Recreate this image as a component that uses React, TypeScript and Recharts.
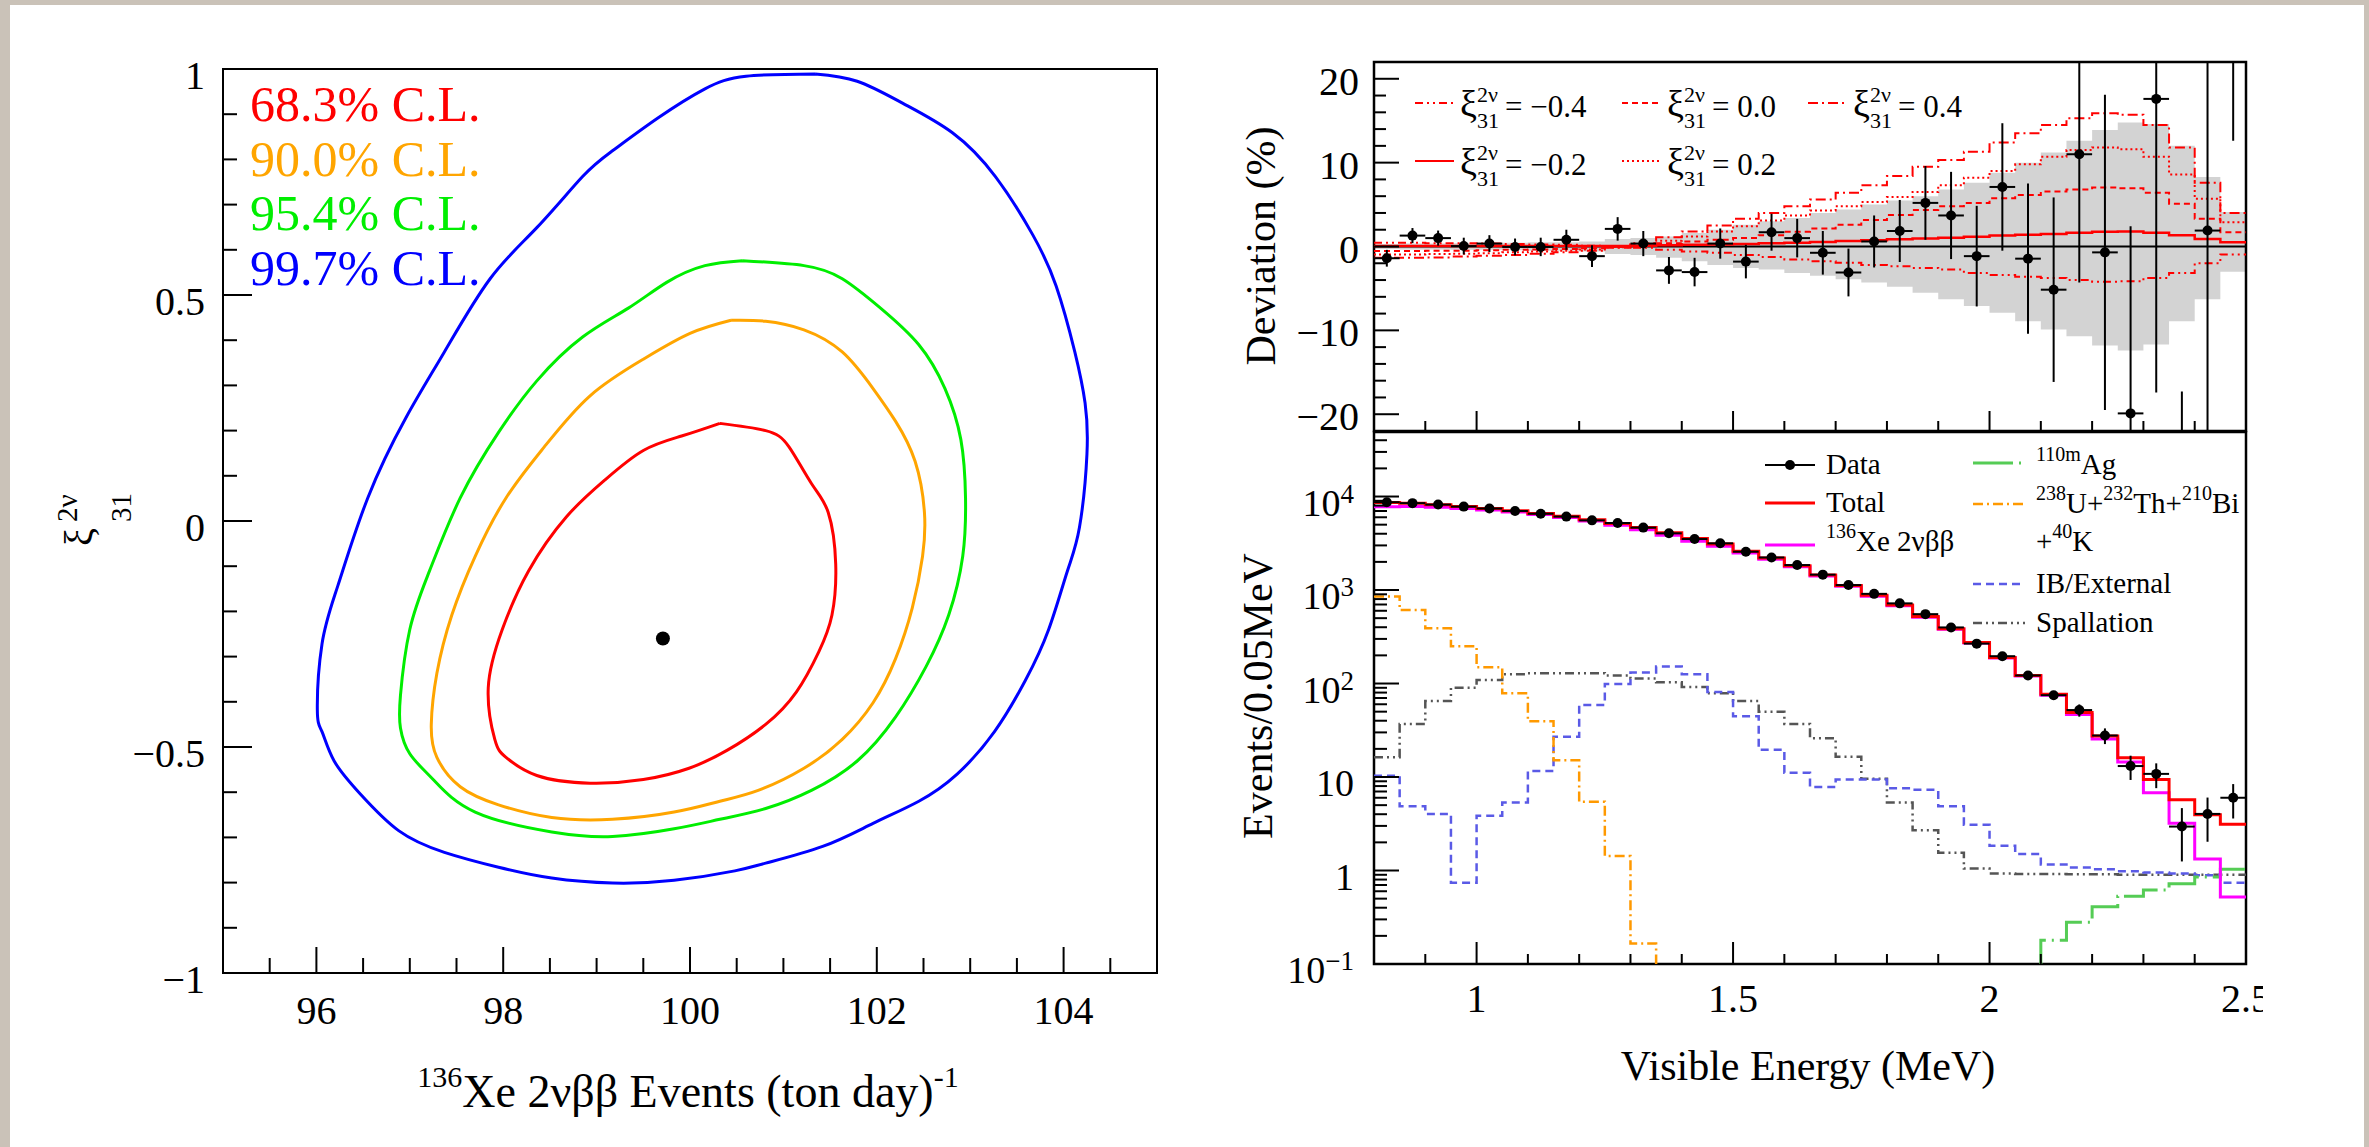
import React from 'react';
import {
  Area,
  ComposedChart,
  ErrorBar,
  Line,
  ReferenceArea,
  ReferenceLine,
  Scatter,
  XAxis,
  YAxis,
} from 'recharts';

const W = 2369;
const H = 1147;
const SERIF = '"Liberation Serif", "Times New Roman", serif';

// ---------- left panel: xi31 vs 136Xe rate contours ----------
const clLabels = ['68.3% C.L.', '90.0% C.L.', '95.4% C.L.', '99.7% C.L.'];

const cl683: [number, number][] = [
  [100.32, 0.216], [100.81, 0.2], [101.06, 0.164], [101.3, 0.083], [101.48, 0.019], [101.56, -0.095],
  [101.52, -0.208], [101.38, -0.289], [101.14, -0.378], [100.81, -0.45], [100.4, -0.507], [99.99, -0.547],
  [99.5, -0.572], [98.93, -0.58], [98.36, -0.563], [98.03, -0.523], [97.91, -0.483], [97.84, -0.369],
  [97.99, -0.24], [98.27, -0.111], [98.68, 0.01], [99.09, 0.091], [99.5, 0.156], [99.91, 0.188],
];
const cl900: [number, number][] = [
  [100.44, 0.444], [100.81, 0.442], [101.22, 0.423], [101.63, 0.374], [101.96, 0.293], [102.2, 0.221],
  [102.41, 0.132], [102.51, 0.019], [102.49, -0.078], [102.38, -0.192], [102.2, -0.305], [101.96, -0.402],
  [101.63, -0.483], [101.22, -0.547], [100.73, -0.596], [100.32, -0.62], [99.83, -0.644], [99.17, -0.66],
  [98.52, -0.656], [97.95, -0.628], [97.54, -0.588], [97.29, -0.523], [97.23, -0.45], [97.29, -0.337],
  [97.45, -0.208], [97.7, -0.078], [98.03, 0.051], [98.44, 0.164], [98.93, 0.277], [99.5, 0.358], [100.0, 0.415],
];
const cl954: [number, number][] = [
  [100.56, 0.576], [101.22, 0.565], [101.63, 0.536], [102.04, 0.471], [102.45, 0.39], [102.73, 0.293],
  [102.9, 0.18], [102.95, 0.051], [102.92, -0.078], [102.77, -0.208], [102.53, -0.321], [102.2, -0.434],
  [101.79, -0.531], [101.3, -0.596], [100.81, -0.636], [100.32, -0.66], [99.83, -0.681], [99.17, -0.698],
  [98.52, -0.688], [97.7, -0.644], [97.25, -0.572], [97.0, -0.515], [96.9, -0.458], [96.9, -0.386],
  [97.0, -0.24], [97.21, -0.111], [97.54, 0.051], [97.95, 0.196], [98.36, 0.31], [98.85, 0.407],
  [99.34, 0.471], [99.75, 0.528], [100.16, 0.565],
];
const cl997: [number, number][] = [
  [101.34, 0.989], [100.6, 0.984], [100.16, 0.956], [99.66, 0.892], [99.17, 0.819], [98.85, 0.762],
  [98.36, 0.649], [97.86, 0.536], [97.37, 0.374], [96.96, 0.229], [96.55, 0.051], [96.23, -0.143],
  [96.06, -0.272], [96.01, -0.418], [96.06, -0.466], [96.19, -0.531], [96.47, -0.604], [96.88, -0.685],
  [97.37, -0.733], [97.95, -0.766], [98.52, -0.79], [99.17, -0.801], [99.83, -0.795], [100.48, -0.774],
  [100.81, -0.757], [101.42, -0.72], [101.96, -0.669], [102.45, -0.62], [102.86, -0.56], [103.26, -0.466],
  [103.59, -0.353], [103.84, -0.24], [104.04, -0.111], [104.17, -0.014], [104.25, 0.148], [104.23, 0.261],
  [104.12, 0.374], [103.92, 0.52], [103.67, 0.633], [103.27, 0.762], [102.81, 0.859], [102.28, 0.924],
  [101.79, 0.973],
];
const bestFit = [{ x: 99.71, y: -0.26 }];

const leftXTicks = [95.5, 96, 96.5, 97, 97.5, 98, 98.5, 99, 99.5, 100, 100.5, 101, 101.5, 102, 102.5, 103, 103.5, 104, 104.5];
const leftXMajors = [96, 98, 100, 102, 104];
const leftYTicks = [-1, -0.9, -0.8, -0.7, -0.6, -0.5, -0.4, -0.3, -0.2, -0.1, 0, 0.1, 0.2, 0.3, 0.4, 0.5, 0.6, 0.7, 0.8, 0.9, 1];
const leftYMajors = [-1, -0.5, 0, 0.5, 1];

// ---------- right panels: energy spectrum ----------
const binEdges = [0.8, 0.85, 0.9, 0.95, 1.0, 1.05, 1.1, 1.15, 1.2, 1.25, 1.3, 1.35, 1.4, 1.45, 1.5, 1.55, 1.6, 1.65,
  1.7, 1.75, 1.8, 1.85, 1.9, 1.95, 2.0, 2.05, 2.1, 2.15, 2.2, 2.25, 2.3, 2.35, 2.4, 2.45, 2.5];
const binCenters = [0.825, 0.875, 0.925, 0.975, 1.025, 1.075, 1.125, 1.175, 1.225, 1.275, 1.325, 1.375, 1.425,
  1.475, 1.525, 1.575, 1.625, 1.675, 1.725, 1.775, 1.825, 1.875, 1.925, 1.975, 2.025, 2.075, 2.125, 2.175, 2.225,
  2.275, 2.325, 2.375, 2.425, 2.475];

// deviation panel (%)
const devData = [-1.4, 1.3, 1.0, 0.05, 0.35, -0.05, -0.05, 0.8, -1.15, 2.1, 0.35, -2.85, -3.05, 0.35, -1.8, 1.7,
  1.0, -0.75, -3.1, 0.6, 1.85, 5.2, 3.7, -1.15, 7.1, -1.45, -5.15, 11.0, -0.7, -19.9, 17.6, -48, 1.9, 100];
const devErr = [1.0, 0.9, 0.9, 1.0, 1.0, 1.0, 1.1, 1.2, 1.3, 1.4, 1.5, 1.6, 1.7, 1.8, 2.0, 2.2, 2.3, 2.6, 2.85,
  3.1, 3.7, 4.4, 5.2, 6.0, 7.6, 8.95, 11.0, 15.3, 18.8, 22.3, 35, 30.7, 55, 87.4];
const bandHi = [0.3, 0.35, 0.35, 0.4, 0.4, 0.45, 0.5, 0.5, 0.6, 0.9, 1.0, 1.2, 1.6, 2.0, 2.6, 3.0, 3.4, 4.0, 4.4,
  5.0, 5.5, 6.0, 6.8, 7.6, 8.8, 10.0, 11.2, 12.6, 13.9, 14.8, 14.6, 12.0, 8.3, 4.1];
const bandLo = [-0.3, -0.35, -0.35, -0.4, -0.4, -0.45, -0.5, -0.5, -0.6, -0.9, -1.0, -1.35, -1.75, -2.2, -2.55,
  -2.75, -3.15, -3.5, -3.9, -4.3, -4.8, -5.5, -6.3, -7.1, -7.9, -8.9, -9.9, -10.7, -11.8, -12.4, -11.7, -8.9, -6.3, -3.0];
const xiM04 = [0.45, 0.45, 0.4, 0.4, 0.35, 0.3, 0.25, 0.2, 0.1, 0.0, -0.15, -0.4, -0.6, -0.75, -1.0, -1.25, -1.55,
  -1.75, -1.95, -2.2, -2.35, -2.55, -2.75, -3.15, -3.4, -3.6, -3.75, -4.0, -4.2, -4.15, -3.75, -3.15, -2.0, -0.95];
const xiM02 = [0.05, 0.05, 0.05, 0.05, 0.05, 0.05, 0.05, 0.05, 0.05, 0.05, 0.1, 0.15, 0.2, 0.25, 0.3, 0.4, 0.45,
  0.55, 0.65, 0.75, 0.85, 0.95, 1.05, 1.15, 1.3, 1.4, 1.5, 1.65, 1.75, 1.8, 1.65, 1.35, 0.9, 0.5];
const xi00 = [-0.55, -0.55, -0.5, -0.5, -0.45, -0.4, -0.35, -0.3, -0.2, -0.05, 0.15, 0.4, 0.6, 0.8, 1.0, 1.35, 1.75,
  2.15, 2.6, 3.15, 3.75, 4.35, 4.8, 5.2, 5.75, 6.15, 6.55, 6.8, 7.05, 6.95, 6.4, 5.1, 3.3, 1.7];
const xi02 = [-0.95, -0.95, -0.9, -0.85, -0.8, -0.7, -0.6, -0.5, -0.35, -0.1, 0.3, 0.7, 1.2, 1.8, 2.4, 3.1, 3.7,
  4.3, 4.8, 5.3, 5.9, 6.5, 7.3, 8.2, 9.0, 9.8, 10.7, 11.5, 11.8, 11.6, 10.7, 8.6, 5.7, 2.9];
const xi04 = [-1.35, -1.35, -1.3, -1.2, -1.1, -1.0, -0.85, -0.7, -0.5, -0.15, 0.4, 1.1, 1.8, 2.5, 3.3, 4.0, 4.8,
  5.6, 6.4, 7.3, 8.4, 9.5, 10.3, 11.3, 12.4, 13.5, 14.5, 15.3, 15.9, 15.7, 14.5, 11.8, 7.6, 4.0];

// spectrum panel (events / 0.05 MeV)
const evData = [8700, 8500, 8200, 7800, 7450, 7000, 6550, 6100, 5560, 5210, 4650, 4040, 3510, 3160, 2570, 2230,
  1850, 1460, 1130, 910, 720, 552, 398, 267, 196, 122, 75, 52, 27.8, 13.1, 10.8, 2.95, 4.03, 6.0];
const evErr = [90, 80, 75, 78, 75, 70, 72, 73, 72, 73, 70, 65, 60, 57, 51, 49, 43, 38, 33, 30, 26, 22, 20, 16,
  14.5, 11, 8.3, 7.8, 5.3, 3.8, 3.2, 1.7, 2.0, 2.4];
const total = [8650, 8450, 8150, 7800, 7450, 7050, 6600, 6150, 5650, 5150, 4650, 4100, 3550, 3100, 2600, 2200, 1820,
  1450, 1120, 880, 690, 520, 385, 275, 190, 122, 77, 49, 27.5, 16.1, 9.4, 5.7, 3.95, 3.12];
const xe136 = [7770, 7800, 7690, 7460, 7190, 6840, 6420, 5980, 5460, 4930, 4410, 3850, 3330, 2940, 2490, 2130, 1770,
  1415, 1095, 860, 678, 512, 380, 272, 187, 120, 75, 46.5, 25.5, 14.5, 6.8, 3.2, 1.33, 0.52];
const uThBiK = [850, 612, 390, 250, 149, 78.5, 39.4, 15.1, 5.44, 1.43, 0.166, 0.01, null, null, null, null, null,
  null, null, null, null, null, null, null, null, null, null, null, null, null, null, null, null, null];
const ibExternal = [10.3, 4.87, 4.03, 0.74, 3.84, 5.35, 11.6, 27, 59, 99, 131, 152, 126, 81, 44.6, 19.6, 11.1, 7.8,
  9.4, 9.4, 7.6, 7.3, 4.87, 3.09, 1.84, 1.5, 1.16, 1.08, 1.03, 0.98, 0.95, 0.93, 0.89, 0.74];
const spallation = [16.3, 36.9, 65, 90, 109, 126, 129, 129, 129, 122, 113, 103, 92, 78.5, 65, 50, 37, 26, 16.5, 9.6,
  5.35, 2.69, 1.55, 1.05, 0.93, 0.92, 0.92, 0.91, 0.91, 0.9, 0.9, 0.9, 0.9, 0.9];
const ag110m = [null, null, null, null, null, null, null, null, null, null, null, null, null, null, null, null, null,
  null, null, null, null, null, null, null, null, 0.01, 0.18, 0.28, 0.41, 0.53, 0.62, 0.72, 0.85, 1.03];

const eTicks = [0.9, 1, 1.1, 1.2, 1.3, 1.4, 1.5, 1.6, 1.7, 1.8, 1.9, 2, 2.1, 2.2, 2.3, 2.4, 2.5];
const eMajors = [1, 1.5, 2, 2.5];
const devTicks = [-20, -18, -16, -14, -12, -10, -8, -6, -4, -2, 0, 2, 4, 6, 8, 10, 12, 14, 16, 18, 20];
const devMajors = [-20, -10, 0, 10, 20];
const logTicks = [0.1, 0.2, 0.3, 0.4, 0.5, 0.6, 0.7, 0.8, 0.9, 1, 2, 3, 4, 5, 6, 7, 8, 9, 10, 20, 30, 40, 50, 60,
  70, 80, 90, 100, 200, 300, 400, 500, 600, 700, 800, 900, 1000, 2000, 3000, 4000, 5000, 6000, 7000, 8000, 9000,
  10000, 20000, 30000, 40000];
const logMajors = [0.1, 1, 10, 100, 1000, 10000];
const logLabels: Record<string, [string, string]> = {
  '0.1': ['10', '−1'], '1': ['1', ''], '10': ['10', ''], '100': ['10', '2'], '1000': ['10', '3'], '10000': ['10', '4'],
};

// step-histogram rows: one per bin edge, last edge repeats the last bin
const last = (arr: (number | null)[], i: number) => arr[Math.min(i, arr.length - 1)];
const devRows = binEdges.map((e, i) => ({
  e,
  band: [last(bandLo, i), last(bandHi, i)],
  xiM04: last(xiM04, i), xiM02: last(xiM02, i), xi00: last(xi00, i), xi02: last(xi02, i), xi04: last(xi04, i),
}));
const specRows = binEdges.map((e, i) => ({
  e,
  total: last(total, i), xe: last(xe136, i), u: last(uThBiK, i), ib: last(ibExternal, i),
  sp: last(spallation, i), ag: last(ag110m, i),
}));
const devPoints = binCenters.map((e, i) => ({ e, v: devData[i], ex: 0.025, ey: devErr[i] }));
const evPoints = binCenters.map((e, i) => ({ e, v: evData[i], ex: 0.025, ey: evErr[i] }));

// plot rectangles of the two right pads (page px)
const R_LEFT = 1374;
const R_RIGHT = 2246;
const DEV_TOP = 62;
const DEV_BOTTOM = 431;
const SPEC_TOP = 432;
const SPEC_BOTTOM = 964;

// ---------- ROOT-style inward ticks ----------
type TickArgs = { x?: number; y?: number; payload?: { value: number } };
const near = (v: number, list: number[]) => list.some((m) => Math.abs(m - v) < 1e-6);
const signed = (v: number) => (v < 0 ? '−' : '') + String(Math.abs(v));

const bottomTick = (o: { majors: number[]; big: number; small: number; dy: number; size: number; fmt?: (v: number) => string; clipX?: number }) =>
  (p: TickArgs) => {
    const x = p.x ?? 0;
    const y = p.y ?? 0;
    const v = p.payload?.value ?? 0;
    const major = near(v, o.majors);
    const id = `clip-${Math.round(x)}`;
    return (
      <g>
        <line x1={x} x2={x} y1={y} y2={y - (major ? o.big : o.small)} stroke="#000" strokeWidth={2} />
        {major && o.fmt && (
          <>
            {o.clipX && (
              <defs>
                <clipPath id={id}>
                  <rect x={0} y={0} width={o.clipX} height={H} />
                </clipPath>
              </defs>
            )}
            <text x={x} y={y + o.dy} textAnchor="middle" fontFamily={SERIF} fontSize={o.size} fill="#000"
              clipPath={o.clipX ? `url(#${id})` : undefined}>
              {o.fmt(v)}
            </text>
          </>
        )}
      </g>
    );
  };

const leftTick = (o: { majors: number[]; big: number; small: number; gap: number; dy: number; size: number; fmt?: (v: number) => React.ReactNode }) =>
  (p: TickArgs) => {
    const x = p.x ?? 0;
    const y = p.y ?? 0;
    const v = p.payload?.value ?? 0;
    const major = near(v, o.majors);
    return (
      <g>
        <line x1={x} x2={x + (major ? o.big : o.small)} y1={y} y2={y} stroke="#000" strokeWidth={2} />
        {major && o.fmt && (
          <text x={x - o.gap} y={y + o.dy} textAnchor="end" fontFamily={SERIF} fontSize={o.size} fill="#000">
            {o.fmt(v)}
          </text>
        )}
      </g>
    );
  };

const logFmt = (v: number) => {
  const [base, exp] = logLabels[String(v)] ?? ['', ''];
  return (
    <>
      <tspan>{base}</tspan>
      {exp && <tspan dy={-13} fontSize={27}>{exp}</tspan>}
    </>
  );
};

const noDot = () => <g />;
const blackDot = (p: { cx?: number; cy?: number }) => <circle cx={p.cx} cy={p.cy} r={5} fill="#000" />;

// ---------- panels ----------
const ContourPanel = () => (
  <ComposedChart width={W} height={H} margin={{ top: 69, right: W - 1157, bottom: H - 973 - 60, left: 223 - 60 }}>
    <XAxis type="number" dataKey="x" domain={[95, 105]} allowDataOverflow ticks={leftXTicks} interval={0}
      height={60} axisLine={false} tickLine={false} tickSize={0} tickMargin={0}
      tick={bottomTick({ majors: leftXMajors, big: 26, small: 15, dy: 51, size: 40, fmt: (v) => String(v) })} />
    <YAxis type="number" dataKey="y" domain={[-1, 1]} allowDataOverflow ticks={leftYTicks} interval={0}
      width={60} axisLine={false} tickLine={false} tickSize={0} tickMargin={0}
      tick={leftTick({ majors: leftYMajors, big: 29, small: 14, gap: 18, dy: 20, size: 40, fmt: signed })} />
    <ReferenceArea x1={95} x2={105} y1={-1} y2={1} fill="none" fillOpacity={0} stroke="#000" strokeWidth={2} />
    {[cl683, cl900, cl954, cl997].map((c, i) => (
      <Scatter key={i} data={[...c, c[0]].map(([x, y]) => ({ x, y }))} dataKey="y" shape={noDot}
        line={{ stroke: ['#ff0000', '#ffa500', '#00ee00', '#0000ff'][i], strokeWidth: 3 }}
        lineType="joint" lineJointType="natural" isAnimationActive={false} />
    ))}
    <Scatter data={bestFit} dataKey="y" shape={(p: any) => <circle cx={p.cx} cy={p.cy} r={7} fill="#000" />}
      isAnimationActive={false} />
  </ComposedChart>
);

const DeviationPanel = () => (
  <ComposedChart width={W} height={H} data={devRows}
    margin={{ top: DEV_TOP, right: W - R_RIGHT, bottom: H - DEV_BOTTOM - 40, left: R_LEFT - 60 }}>
    <XAxis type="number" dataKey="e" domain={[0.8, 2.5]} allowDataOverflow ticks={eTicks} interval={0}
      height={40} axisLine={false} tickLine={false} tickSize={0} tickMargin={0}
      tick={bottomTick({ majors: eMajors, big: 20, small: 10, dy: 0, size: 40 })} />
    <YAxis type="number" dataKey="v" domain={[-22, 22]} allowDataOverflow ticks={devTicks} interval={0}
      width={60} axisLine={false} tickLine={false} tickSize={0} tickMargin={0}
      tick={leftTick({ majors: devMajors, big: 25, small: 12, gap: 15, dy: 16, size: 40, fmt: signed })} />
    <Area type="stepAfter" dataKey="band" fill="#d3d3d3" fillOpacity={1} stroke="none" isAnimationActive={false} />
    <ReferenceLine y={0} stroke="#000" strokeWidth={2} />
    <Line type="stepAfter" dataKey="xiM04" stroke="#ff0000" strokeWidth={2} strokeDasharray="8 4 2 4 2 4" dot={false} isAnimationActive={false} />
    <Line type="stepAfter" dataKey="xi00" stroke="#ff0000" strokeWidth={2} strokeDasharray="6 4" dot={false} isAnimationActive={false} />
    <Line type="stepAfter" dataKey="xi04" stroke="#ff0000" strokeWidth={2} strokeDasharray="10 4 2 4" dot={false} isAnimationActive={false} />
    <Line type="stepAfter" dataKey="xiM02" stroke="#ff0000" strokeWidth={2.5} dot={false} isAnimationActive={false} />
    <Line type="stepAfter" dataKey="xi02" stroke="#ff0000" strokeWidth={2} strokeDasharray="2 3" dot={false} isAnimationActive={false} />
    <ReferenceArea x1={0.8} x2={2.5} y1={-22} y2={22} fill="none" fillOpacity={0} stroke="#000" strokeWidth={2.5} />
  </ComposedChart>
);

// data points with error bars, drawn in a layer clipped to the pad frame
const DevPoints = () => (
  <ComposedChart width={W} height={H}
    margin={{ top: DEV_TOP, right: W - R_RIGHT, bottom: H - DEV_BOTTOM, left: R_LEFT }}>
    <XAxis type="number" dataKey="e" domain={[0.8, 2.5]} allowDataOverflow hide />
    <YAxis type="number" dataKey="v" domain={[-22, 22]} allowDataOverflow hide />
    <Scatter data={devPoints} dataKey="v" shape={blackDot} isAnimationActive={false}>
      <ErrorBar dataKey="ex" direction="x" width={0} stroke="#000" strokeWidth={2} />
      <ErrorBar dataKey="ey" direction="y" width={0} stroke="#000" strokeWidth={2} />
    </Scatter>
  </ComposedChart>
);

const SpectrumPanel = () => (
  <ComposedChart width={W} height={H} data={specRows}
    margin={{ top: SPEC_TOP, right: W - R_RIGHT, bottom: H - SPEC_BOTTOM - 60, left: R_LEFT - 60 }}>
    <XAxis type="number" dataKey="e" domain={[0.8, 2.5]} allowDataOverflow ticks={eTicks} interval={0}
      height={60} axisLine={false} tickLine={false} tickSize={0} tickMargin={0}
      tick={bottomTick({ majors: eMajors, big: 22, small: 10, dy: 48, size: 40, fmt: (v) => String(v), clipX: 2263 })} />
    <YAxis type="number" dataKey="v" scale="log" domain={[0.1, 49000]} allowDataOverflow ticks={logTicks} interval={0}
      width={60} axisLine={false} tickLine={false} tickSize={0} tickMargin={0}
      tick={leftTick({ majors: logMajors, big: 25, small: 13, gap: 20, dy: 19, size: 38, fmt: logFmt })} />
    <Line type="stepAfter" dataKey="sp" stroke="#555555" strokeWidth={2.5} strokeDasharray="9 4 2 4 2 4" dot={false} isAnimationActive={false} />
    <Line type="stepAfter" dataKey="ib" stroke="#5a5ae6" strokeWidth={2.5} strokeDasharray="8 5" dot={false} isAnimationActive={false} />
    <Line type="stepAfter" dataKey="u" stroke="#ff9900" strokeWidth={2.5} strokeDasharray="10 4 2 4" dot={false} isAnimationActive={false} />
    <Line type="stepAfter" dataKey="ag" stroke="#55cc55" strokeWidth={3} strokeDasharray="40 6 2 6" dot={false} isAnimationActive={false} />
    <Line type="stepAfter" dataKey="xe" stroke="#ff00ff" strokeWidth={3} dot={false} isAnimationActive={false} />
    <Line type="stepAfter" dataKey="total" stroke="#ff0000" strokeWidth={3} dot={false} isAnimationActive={false} />
    <ReferenceArea x1={0.8} x2={2.5} y1={0.1} y2={49000} fill="none" fillOpacity={0} stroke="#000" strokeWidth={2.5} />
  </ComposedChart>
);

const SpecPoints = () => (
  <ComposedChart width={W} height={H}
    margin={{ top: SPEC_TOP, right: W - R_RIGHT, bottom: H - SPEC_BOTTOM, left: R_LEFT }}>
    <XAxis type="number" dataKey="e" domain={[0.8, 2.5]} allowDataOverflow hide />
    <YAxis type="number" dataKey="v" scale="log" domain={[0.1, 49000]} allowDataOverflow hide />
    <Scatter data={evPoints} dataKey="v" shape={blackDot} isAnimationActive={false}>
      <ErrorBar dataKey="ex" direction="x" width={0} stroke="#000" strokeWidth={2} />
      <ErrorBar dataKey="ey" direction="y" width={0} stroke="#000" strokeWidth={2} />
    </Scatter>
  </ComposedChart>
);

// ---------- titles and legends ----------
const clColors = ['#ff0000', '#ffa500', '#00ee00', '#0000ff'];
const xiLegend = [
  { x: 1415, y: 103, val: '−0.4', dash: '8 4 2 4 2 4' },
  { x: 1622, y: 103, val: '0.0', dash: '6 4' },
  { x: 1808, y: 103, val: '0.4', dash: '10 4 2 4' },
  { x: 1415, y: 161, val: '−0.2', dash: undefined },
  { x: 1622, y: 161, val: '0.2', dash: '2 3' },
];

const Overlay = () => (
  <svg width={W} height={H} style={{ position: 'absolute', left: 0, top: 0 }} fontFamily={SERIF}>
    {clLabels.map((t, i) => (
      <text key={t} x={250} y={121 + i * 54.7} fontSize={50} fill={clColors[i]}>{t}</text>
    ))}
    <text x={688} y={1107} fontSize={46} textAnchor="middle">
      <tspan fontSize={30} dy={-20}>136</tspan>
      <tspan dy={20}>Xe 2νββ Events (ton day)</tspan>
      <tspan fontSize={30} dy={-20}>-1</tspan>
    </text>
    <text transform="translate(92,546) rotate(-90)" fontSize={40}>ξ</text>
    <text transform="translate(77,522) rotate(-90)" fontSize={29}>2ν</text>
    <text transform="translate(131,522) rotate(-90)" fontSize={29}>31</text>

    <text transform="translate(1275,246) rotate(-90)" fontSize={42} textAnchor="middle">Deviation (%)</text>
    <text transform="translate(1272,696) rotate(-90)" fontSize={42} textAnchor="middle">Events/0.05MeV</text>
    <text x={1808} y={1080} fontSize={42} textAnchor="middle">Visible Energy (MeV)</text>

    {xiLegend.map((l) => (
      <g key={l.val}>
        <line x1={l.x} x2={l.x + 39} y1={l.y} y2={l.y} stroke="#ff0000" strokeWidth={2} strokeDasharray={l.dash} />
        <text x={l.x + 45} y={l.y + 14} fontSize={38}>ξ</text>
        <text x={l.x + 62} y={l.y - 1} fontSize={22}>2ν</text>
        <text x={l.x + 62} y={l.y + 25} fontSize={22}>31</text>
        <text x={l.x + 90} y={l.y + 14} fontSize={31}>= {l.val}</text>
      </g>
    ))}

    <g fontSize={29}>
      <line x1={1765} x2={1815} y1={465} y2={465} stroke="#000" strokeWidth={2} />
      <circle cx={1790} cy={465} r={5} fill="#000" />
      <text x={1826} y={474}>Data</text>
      <line x1={1765} x2={1815} y1={503} y2={503} stroke="#ff0000" strokeWidth={3} />
      <text x={1826} y={512}>Total</text>
      <line x1={1765} x2={1815} y1={545} y2={545} stroke="#ff00ff" strokeWidth={3} />
      <text x={1826} y={551}>
        <tspan fontSize={20} dy={-13}>136</tspan>
        <tspan dy={13}>Xe 2νββ</tspan>
      </text>

      <line x1={1973} x2={2025} y1={463} y2={463} stroke="#55cc55" strokeWidth={3} strokeDasharray="40 6 2 6" />
      <text x={2036} y={474}>
        <tspan fontSize={20} dy={-13}>110m</tspan>
        <tspan dy={13}>Ag</tspan>
      </text>
      <line x1={1973} x2={2025} y1={504} y2={504} stroke="#ff9900" strokeWidth={2.5} strokeDasharray="10 4 2 4" />
      <text x={2036} y={513}>
        <tspan fontSize={20} dy={-13}>238</tspan>
        <tspan dy={13}>U+</tspan>
        <tspan fontSize={20} dy={-13}>232</tspan>
        <tspan dy={13}>Th+</tspan>
        <tspan fontSize={20} dy={-13}>210</tspan>
        <tspan dy={13}>Bi</tspan>
      </text>
      <text x={2036} y={551}>
        <tspan>+</tspan>
        <tspan fontSize={20} dy={-13}>40</tspan>
        <tspan dy={13}>K</tspan>
      </text>
      <line x1={1973} x2={2025} y1={584} y2={584} stroke="#5a5ae6" strokeWidth={2.5} strokeDasharray="8 5" />
      <text x={2036} y={593}>IB/External</text>
      <line x1={1973} x2={2025} y1={623} y2={623} stroke="#555555" strokeWidth={2.5} strokeDasharray="9 4 2 4 2 4" />
      <text x={2036} y={632}>Spallation</text>
    </g>
  </svg>
);

const layer: React.CSSProperties = { position: 'absolute', left: 0, top: 0 };
const clipTo = (top: number, bottom: number): React.CSSProperties => ({
  ...layer,
  clipPath: `inset(${top}px ${W - R_RIGHT}px ${H - bottom}px ${R_LEFT}px)`,
});

export default function App() {
  return (
    <div style={{ position: 'absolute', left: 0, top: 0, width: W, height: H, background: '#cac2b8', overflow: 'hidden' }}>
      <div style={{ position: 'absolute', left: 10, top: 5, width: 2354, height: H - 5, background: '#ffffff' }} />
      <div style={layer}><ContourPanel /></div>
      <div style={layer}><DeviationPanel /></div>
      <div style={clipTo(DEV_TOP, DEV_BOTTOM)}><DevPoints /></div>
      <div style={layer}><SpectrumPanel /></div>
      <div style={clipTo(SPEC_TOP, SPEC_BOTTOM)}><SpecPoints /></div>
      <Overlay />
    </div>
  );
}
